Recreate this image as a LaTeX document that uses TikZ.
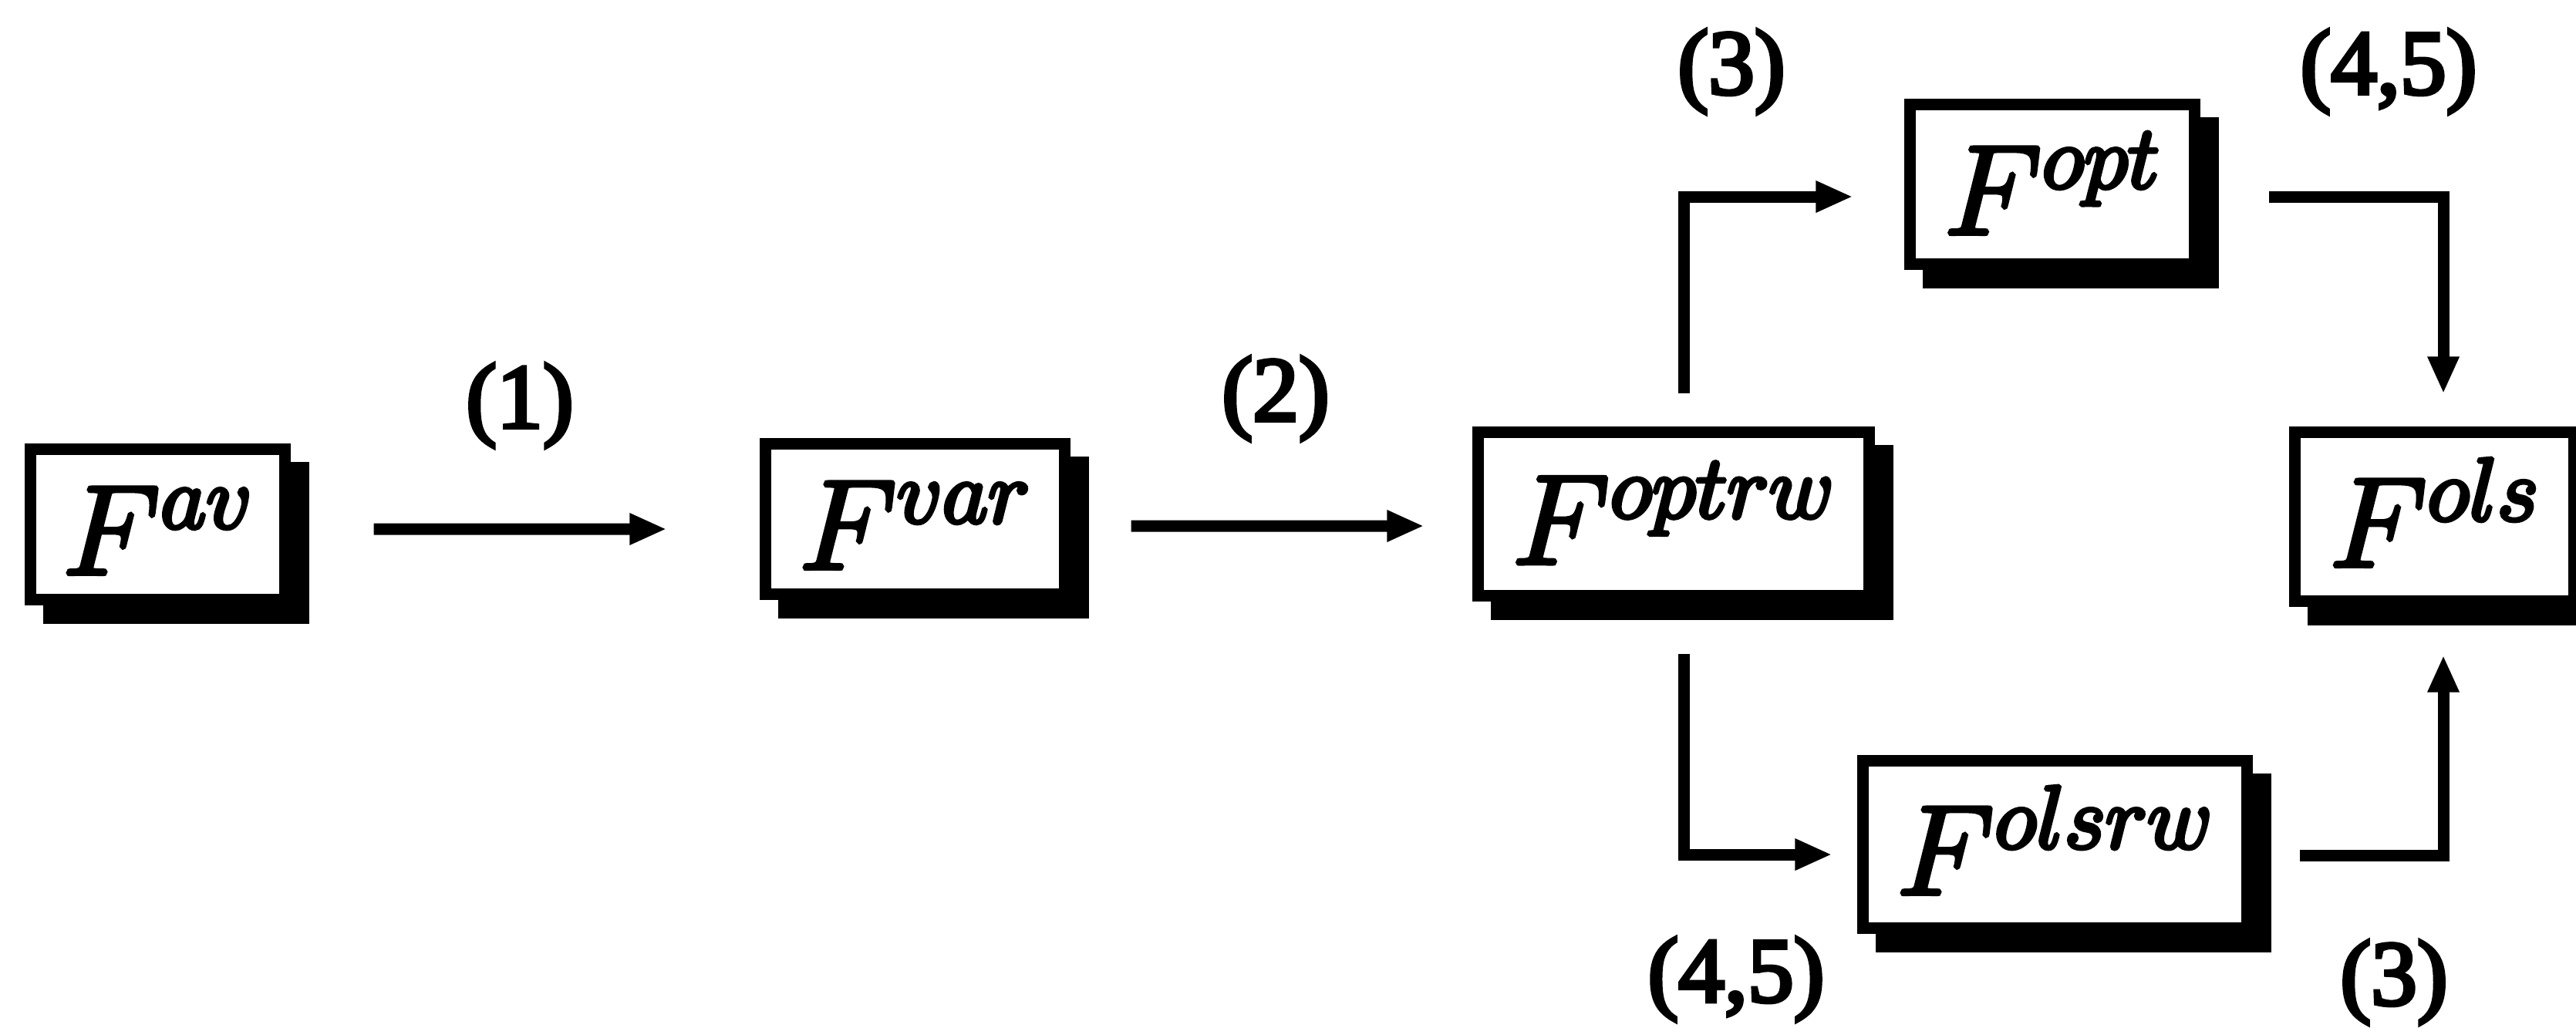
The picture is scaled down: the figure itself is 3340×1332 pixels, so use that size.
\RequirePackage{fix-cm}
\documentclass[tikz,border=0pt]{standalone}
\usepackage{fontspec}
\newfontfamily\lblfont{Liberation Serif}
\usetikzlibrary{arrows.meta,shadows}
% set text with a thin outline stroke on top of the fill (heavier print)
\newcommand\inkheavy[2]{\special{pdf:literal direct 2 Tr #1 w}#2\special{pdf:literal direct 0 Tr}}
\begin{document}
\begin{tikzpicture}[x=0.01cm,y=-0.01cm,
  fbox/.style={draw=black, fill=white, line width=0.15cm, inner sep=0pt,
    text height=1.29cm, text depth=0pt,
    font=\fontsize{47pt}{56pt}\selectfont,
    drop shadow={shadow xshift=0.24cm, shadow yshift=-0.24cm,
      fill=black, draw=black, line width=0.15cm, opacity=1}},
  lbl/.style={inner sep=0pt, font=\lblfont\fontsize{34pt}{40pt}\selectfont},
  arr/.style={line width=0.15cm, -{Triangle[length=0.48cm,width=0.38cm]}}]

\useasboundingbox (0,0) rectangle (3340,1332);

% boxes
\node[fbox, minimum width=3.30cm, minimum height=1.95cm] (av)    at (204.5,680)   {\inkheavy{1.5}{$F^{av}$}};
\node[fbox, minimum width=3.88cm, minimum height=1.95cm] (var)   at (1186.5,673)  {\inkheavy{1.5}{$F^{var}$}};
\node[fbox, minimum width=5.07cm, minimum height=2.12cm] (optrw) at (2170,666.5)  {\inkheavy{1.5}{$F^{optrw}$}};
\node[fbox, minimum width=3.69cm, minimum height=2.07cm] (opt)   at (2661,239)    {\inkheavy{1.5}{$F^{opt}$}};
\node[fbox, minimum width=3.62cm, minimum height=2.19cm] (ols)   at (3156.5,670)  {\inkheavy{1.5}{$F^{ols}$}};
\node[fbox, minimum width=4.98cm, minimum height=2.17cm] (olsrw) at (2664.5,1095) {\inkheavy{1.5}{$F^{olsrw}$}};

% step labels
\node[lbl] (l1)   at (674,526)   {\inkheavy{1.4}{(1)}};
\node[lbl] (l2)   at (1654,517)  {\inkheavy{1.4}{(2)}};
\node[lbl] (l3a)  at (2245,93)   {\inkheavy{1.4}{(3)}};
\node[lbl] (l45a) at (3097,93)   {\inkheavy{1.4}{(4,5)}};
\node[lbl] (l45b) at (2251,1270) {\inkheavy{1.4}{(4,5)}};
\node[lbl] (l3b)  at (3104,1274) {\inkheavy{1.4}{(3)}};

% connectors
\draw[arr, shorten <=1.075cm, shorten >=1.205cm]
  ([yshift=-0.06cm]av.east) -- ([yshift=-0.13cm]var.west);
\draw[arr, shorten <=0.785cm, shorten >=0.625cm]
  ([yshift=-0.09cm]var.east) -- ([yshift=-0.155cm]optrw.west);
\draw[arr, shorten <=0.425cm, shorten >=0.665cm]
  ([xshift=0.13cm]optrw.north) |- ([yshift=-0.16cm]opt.west);
\draw[arr, shorten <=0.885cm, shorten >=0.425cm]
  ([yshift=-0.16cm]opt.east) -| ([xshift=0.115cm]ols.north);
\draw[arr, shorten <=0.675cm, shorten >=0.325cm]
  ([xshift=0.13cm]optrw.south) |- ([yshift=-0.13cm]olsrw.west);
\draw[arr, shorten <=0.605cm, shorten >=0.625cm]
  ([yshift=-0.14cm]olsrw.east) -| ([xshift=0.115cm]ols.south);
\end{tikzpicture}
\end{document}
